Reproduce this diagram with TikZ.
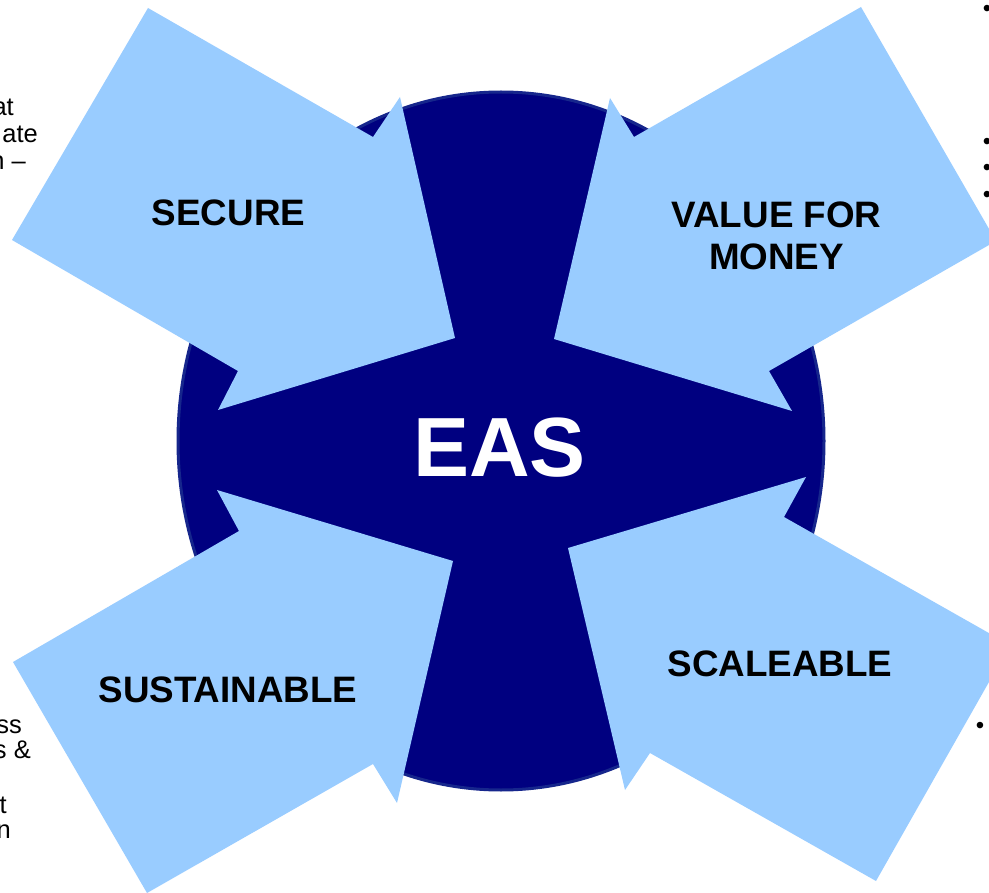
\documentclass[tikz,border=0pt]{standalone}
\usepackage{fontspec}
\setmainfont{Liberation Sans}
\definecolor{easnavy}{RGB}{0,0,128}
\definecolor{arrowblue}{RGB}{153,204,255}
\definecolor{rimblue}{RGB}{22,38,140}
\begin{document}
\begin{tikzpicture}[x=1pt,y=-1pt,
  arrowshape/.style={fill=arrowblue, draw=none},
  lbl/.style={font=\fontsize{36.8}{42.3}\selectfont\bfseries, align=center, inner sep=0, text=black},
  frag/.style={font=\fontsize{25.5}{27}\selectfont, inner sep=0, anchor=base east, text=black},
  bul/.style={font=\fontsize{24}{27}\selectfont, inner sep=0, text=black}]
\useasboundingbox (0,0) rectangle (989,893);
\clip (0,0) rectangle (989,893);
\fill[white] (0,0) rectangle (989,893);
% central disc
\draw[fill=easnavy, draw=rimblue, line width=3pt] (501,441) ellipse [x radius=323pt, y radius=349pt];
% four arrows
\fill[arrowshape] (148,8) -- (373,137) -- (400,97) -- (455,338) -- (218,410) -- (238,371) -- (12,240) -- cycle;
\fill[arrowshape] (861,7) -- (634,137) -- (610,98) -- (554,339) -- (792,411) -- (769,371) -- (996,241) -- cycle;
\fill[arrowshape] (13,662) -- (239,531) -- (217,490) -- (453,561) -- (397,803) -- (373,764) -- (147,893) -- cycle;
\fill[arrowshape] (1010,645) -- (784,517) -- (806,477) -- (568,548) -- (625,790) -- (650,753) -- (876,881) -- cycle;
% labels
\node[lbl] (secure) at (228.5,213) {SECURE};
\node[lbl] (vfm) at (776.5,236) {VALUE FOR\\MONEY};
\node[lbl] (sust) at (228,689.5) {SUSTAINABLE};
\node[lbl] (scal) at (780,663.5) {SCALEABLE};
\node[font=\fontsize{84}{90}\selectfont\bfseries, text=white, inner sep=0] (eas) at (499.5,448) {EAS};
% cut-off text fragments at the left edge
\node[frag] (tl1) at (14,116) {at};
\node[frag] (tl2) at (38,143) {ate};
\node[frag] (tl3) at (26,170) {n –};
\node[frag] (bl1) at (22,733) {ss};
\node[frag] (bl2) at (31,758) {s \&};
\node[frag] (bl3) at (7,813) {t};
\node[frag] (bl4) at (11,838) {n};
% bullets at the right edge
\node[bul] (b1) at (987,11) {•};
\node[bul] (b2) at (987,144) {•};
\node[bul] (b3) at (987,170) {•};
\node[bul] (b4) at (987,197) {•};
\node[bul] (b5) at (980,728) {•};
\end{tikzpicture}
\end{document}
